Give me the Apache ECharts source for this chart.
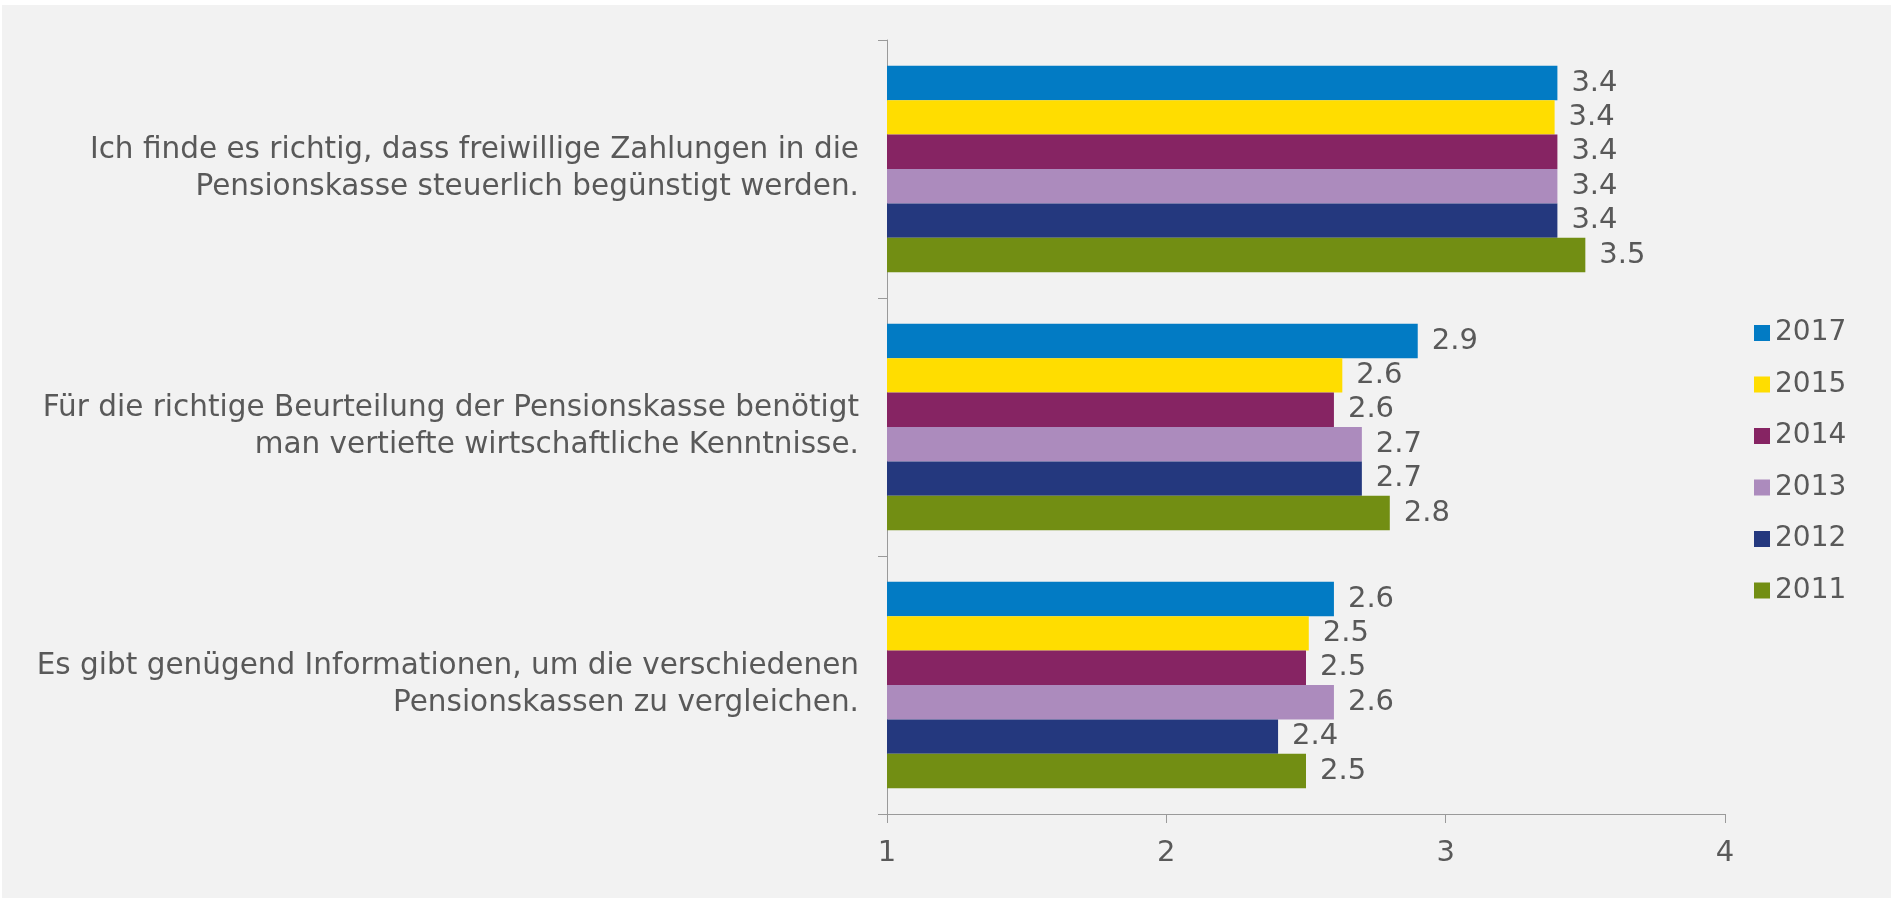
<!DOCTYPE html>
<html>
<head>
<meta charset="utf-8">
<script src="https://cdn.jsdelivr.net/npm/echarts@6/dist/echarts.min.js"></script>
<style>
  html, body { margin: 0; padding: 0; background: #fff; }
  #chart { width: 1897px; height: 905px; }
</style>
</head>
<body>
<div id="chart"></div>
<script>
// categories, bottom to top (category axis runs upwards)
var categories = [
  'Es gibt genügend Informationen, um die verschiedenen\nPensionskassen zu vergleichen.',
  'Für die richtige Beurteilung der Pensionskasse benötigt\nman vertiefte wirtschaftliche Kenntnisse.',
  'Ich finde es richtig, dass freiwillige Zahlungen in die\nPensionskasse steuerlich begünstigt werden.'
]
// first series is drawn at the top of each group
var years = ['2017', '2015', '2014', '2013', '2012', '2011']
var colors = ['#027bc4', '#ffdd00', '#862463', '#ac8bbd', '#24387e', '#728e13']

var v2017 = [2.60, 2.90, 3.40]
var v2015 = [2.51, 2.63, 3.39]
var v2014 = [2.50, 2.60, 3.40]
var v2013 = [2.60, 2.70, 3.40]
var v2012 = [2.40, 2.70, 3.40]
var v2011 = [2.50, 2.80, 3.50]
var values = [v2017, v2015, v2014, v2013, v2012, v2011]

var xTicks = [1, 2, 3, 4]

var textColor = '#595959'
var font = 'DejaVu Sans'

var chart = echarts.init(document.getElementById('chart'))

var series = years.map(function (y, i) {
  return {
    name: y,
    type: 'bar',
    data: values[i],
    itemStyle: { color: colors[i] },
    barGap: '0%',
    barCategoryGap: '20%',
    label: {
      show: true,
      position: 'right',
      distance: 14,
      color: textColor,
      fontFamily: font,
      fontSize: 29,
      formatter: function (p) { return p.value.toFixed(1) }
    }
  }
})

chart.setOption({
  animation: false,
  graphic: [{
    type: 'rect',
    z: -10,
    silent: true,
    shape: { x: 2, y: 5, width: 1889, height: 893 },
    style: { fill: '#f2f2f2' }
  }],
  grid: {
    left: 887,
    right: 172,
    top: 40,
    bottom: 91
  },
  legend: {
    orient: 'vertical',
    left: 1749,
    top: 314,
    data: years,
    icon: 'rect',
    itemWidth: 16,
    itemHeight: 16,
    itemGap: 23.5,
    textStyle: {
      color: textColor,
      fontFamily: font,
      fontSize: 28,
      lineHeight: 28
    }
  },
  xAxis: {
    type: 'value',
    min: xTicks[0],
    max: xTicks[xTicks.length - 1],
    interval: 1,
    splitLine: { show: false },
    axisLine: { show: true, lineStyle: { color: '#9a9a9a', width: 1 } },
    axisTick: { show: true, length: 9, lineStyle: { color: '#9a9a9a' } },
    axisLabel: {
      color: textColor,
      fontFamily: font,
      fontSize: 29,
      margin: 25
    }
  },
  yAxis: {
    type: 'category',
    data: categories,
    axisLine: { show: true, lineStyle: { color: '#9a9a9a', width: 1 } },
    axisTick: { show: true, length: 9, lineStyle: { color: '#9a9a9a' } },
    axisLabel: {
      color: textColor,
      fontFamily: font,
      fontSize: 29.5,
      lineHeight: 37,
      align: 'right',
      margin: 28
    }
  },
  series: series
})
</script>
</body>
</html>
